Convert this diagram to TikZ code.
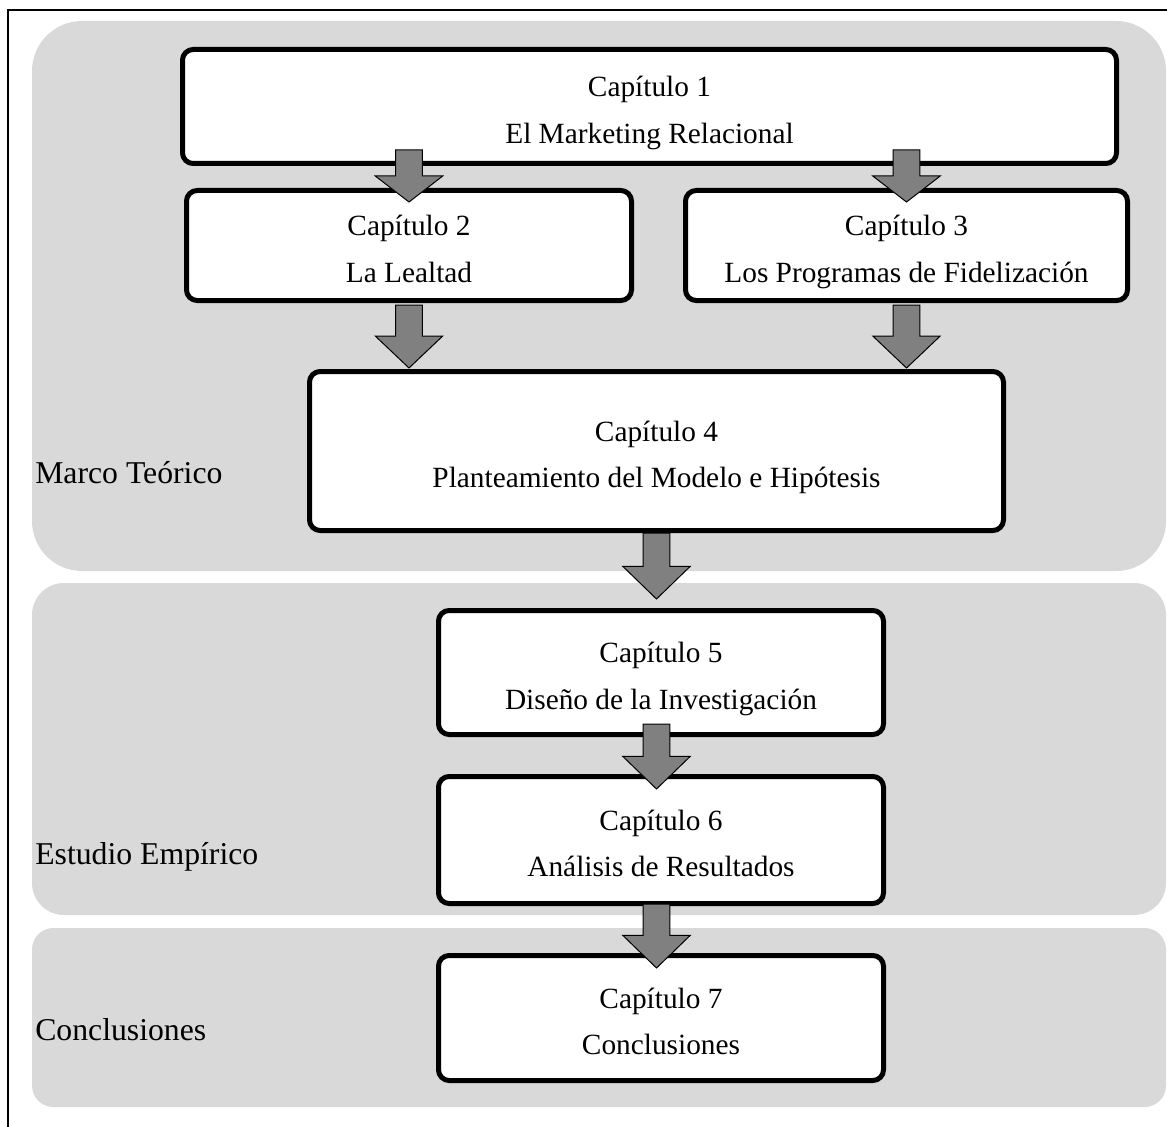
\documentclass[tikz,border=0pt]{standalone}
\usepackage{fontspec}
\setmainfont{Liberation Serif}
\usetikzlibrary{calc}
\definecolor{panelgray}{HTML}{D9D9D9}
\definecolor{arrowgray}{HTML}{808080}
\tikzset{
  chap/.style={draw=black, fill=white, line width=3.75pt, rounded corners=8pt,
    align=center, inner sep=0pt, font=\fontsize{22}{35}\selectfont},
  side/.style={anchor=west, inner sep=0pt, font=\fontsize{23.8}{28}\selectfont},
  panel/.style={fill=panelgray},
  barrow/.style={fill=arrowgray, draw=black, line width=0.75pt, line join=miter},
}
% block arrow: #1 start of the shaft, #2 tip, #3 head length
\newcommand\blockarrow[3]{%
  \draw[barrow] let \p1=#1, \p2=#2 in
    (\x2-10.1pt,\y1) -- (\x2+10.1pt,\y1) -- (\x2+10.1pt,\y2+#3)
    -- (\x2+25.3pt,\y2+#3) -- (\x2,\y2) -- (\x2-25.3pt,\y2+#3)
    -- (\x2-10.1pt,\y2+#3) -- cycle;}
% two-line chapter caption, set slightly below the box centre
\newcommand\chaptext[2]{\rule{0pt}{27.5pt}#1\\#2\rule[-7.5pt]{0pt}{7.5pt}}

\begin{document}
\begin{tikzpicture}[x=0.75pt,y=-0.75pt]
\useasboundingbox (0,0) rectangle (1167,1127);

% frame
\draw[line width=1.4pt] (8,1128) -- (8,10) -- (1168,10);

% section panels
\fill[panel, rounded corners=37.5pt] (32,21) rectangle (1166,571);
\fill[panel, rounded corners=24pt] (32,583) rectangle (1166,915);
\fill[panel, rounded corners=16pt] (32,928) rectangle (1166,1107);

\node[side] (mt) at (35,473) {Marco Teórico};
\node[side] (ee) at (35,857) {Estudio Empírico};
\node[side] (cc) at (35,1030) {Conclusiones};

% chapter boxes
\node[chap, minimum width=700.5pt, minimum height=85.5pt] (b1) at (649.5,106.5)
  {\chaptext{Capítulo 1}{El Marketing Relacional}};
\node[chap, minimum width=333.75pt, minimum height=82.5pt] (b2) at (409,245.5)
  {\chaptext{Capítulo 2}{La Lealtad}};
\node[chap, minimum width=331.5pt, minimum height=82.5pt] (b3) at (906.5,245.5)
  {\chaptext{Capítulo 3}{Los Programas de Fidelización}};
\node[chap, minimum width=520.5pt, minimum height=119.25pt] (b4) at (656.5,451)
  {\chaptext{Capítulo 4}{Planteamiento del Modelo e Hipótesis}};
\node[chap, minimum width=333.75pt, minimum height=93pt] (b5) at (661,672.5)
  {\chaptext{Capítulo 5}{Diseño de la Investigación}};
\node[chap, minimum width=333.75pt, minimum height=95.25pt] (b6) at (661,840)
  {\chaptext{Capítulo 6}{Análisis de Resultados}};
\node[chap, minimum width=333.75pt, minimum height=93.75pt] (b7) at (661,1018)
  {\chaptext{Capítulo 7}{Conclusiones}};

% arrow end points
\coordinate (a1s) at ($(b1.south -| b2.center)+(0,-16)$);
\coordinate (a1t) at ($(b2.north)+(0,14)$);
\coordinate (a2s) at ($(b1.south -| b3.center)+(0,-16)$);
\coordinate (a2t) at ($(b3.north)+(0,14)$);
\coordinate (a3s) at ($(b2.south)+(0,2)$);
\coordinate (a3t) at ($(b4.north -| b2.center)+(0,-1)$);
\coordinate (a4s) at ($(b3.south)+(0,2)$);
\coordinate (a4t) at ($(b4.north -| b3.center)+(0,-1)$);
\coordinate (a5s) at (b4.south);
\coordinate (a5t) at ($(b5.north -| b4.south)+(0,-9)$);
\coordinate (a6s) at ($(b5.south -| b4.south)+(0,-13)$);
\coordinate (a6t) at ($(b6.north -| b4.south)+(0,15)$);
\coordinate (a7s) at ($(b6.south -| b4.south)+(0,-2)$);
\coordinate (a7t) at ($(b7.north -| b4.south)+(0,15)$);

\blockarrow{(a1s)}{(a1t)}{19.5pt}
\blockarrow{(a2s)}{(a2t)}{19.5pt}
\blockarrow{(a3s)}{(a3t)}{24pt}
\blockarrow{(a4s)}{(a4t)}{24pt}
\blockarrow{(a5s)}{(a5t)}{24.5pt}
\blockarrow{(a6s)}{(a6t)}{24.5pt}
\blockarrow{(a7s)}{(a7t)}{24.5pt}
\end{tikzpicture}
\end{document}
